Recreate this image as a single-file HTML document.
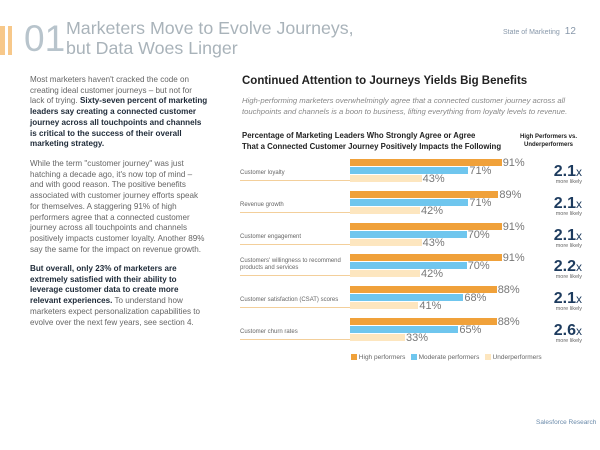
<!DOCTYPE html>
<html><head><meta charset="utf-8"><style>
body{margin:0;width:600px;height:450px;background:#fff;font-family:"Liberation Sans",sans-serif;position:relative;overflow:hidden;color:#444}
.a{position:absolute;white-space:nowrap}
.bar{position:absolute;height:7px}
.o{background:#f0a13a}.b{background:#6fc6ee}.l{background:#fde6bf}
.pct{position:absolute;font-size:11px;color:#777;line-height:8px}
.lab{position:absolute;left:240px;width:110px;border-bottom:1px solid #f3cf9b;font-size:6px;color:#666;line-height:7px}
.x{position:absolute;left:540px;width:42px;text-align:right;color:#1d3b5e;font-weight:bold;font-size:16px;line-height:14px}
.x span{font-weight:normal;font-size:12px}
.x div{font-size:5.5px;font-weight:normal;color:#666;line-height:6px}
.t{position:absolute;left:30px;font-size:8.1px;line-height:10.7px;color:#666;white-space:nowrap}
.t b{color:#1e2a38}
</style></head><body>
<div class="a" style="left:0;top:26px;width:5px;height:29px;background:#f7c88a"></div>
<div class="a" style="left:8px;top:26px;width:4px;height:29px;background:#f7c88a"></div>
<div class="a" style="left:24px;top:20px;font-size:37px;color:#b8c4cc;line-height:38px">01</div>
<div class="a" style="left:66px;top:18px;font-size:17.8px;color:#a9b3ba;line-height:20px">Marketers Move to Evolve Journeys,<br>but Data Woes Linger</div>
<div class="a" style="left:503px;top:26px;font-size:7px;color:#8898aa">State of Marketing <span style="font-size:10px;margin-left:3px">12</span></div>
<div class="t" style="top:75px">Most marketers haven't cracked the code on<br>creating ideal customer journeys – but not for<br>lack of trying. <b>Sixty-seven percent of marketing</b><br><b>leaders say creating a connected customer</b><br><b>journey across all touchpoints and channels</b><br><b>is critical to the success of their overall</b><br><b>marketing strategy.</b></div>
<div class="t" style="top:159px">While the term "customer journey" was just<br>hatching a decade ago, it's now top of mind –<br>and with good reason. The positive benefits<br>associated with customer journey efforts speak<br>for themselves. A staggering 91% of high<br>performers agree that a connected customer<br>journey across all touchpoints and channels<br>positively impacts customer loyalty. Another 89%<br>say the same for the impact on revenue growth.</div>
<div class="t" style="top:264px"><b>But overall, only 23% of marketers are</b><br><b>extremely satisfied with their ability to</b><br><b>leverage customer data to create more</b><br><b>relevant experiences.</b> To understand how<br>marketers expect personalization capabilities to<br>evolve over the next few years, see section 4.</div>
<div class="a" style="left:242px;top:75px;font-size:11.5px;font-weight:bold;color:#222">Continued Attention to Journeys Yields Big Benefits</div>
<div class="a" style="left:242px;top:95px;font-size:7.7px;line-height:11px;font-style:italic;color:#888">High-performing marketers overwhelmingly agree that a connected customer journey across all<br>touchpoints and channels is a boon to business, lifting everything from loyalty levels to revenue.</div>
<div class="a" style="left:242px;top:130px;font-size:7.8px;line-height:11px;font-weight:bold;color:#222">Percentage of Marketing Leaders Who Strongly Agree or Agree<br>That a Connected Customer Journey Positively Impacts the Following</div>
<div class="a" style="left:520px;top:133px;font-size:6px;line-height:8px;font-weight:bold;color:#222;text-align:center">High Performers vs.<br>Underperformers</div>

<div id="c"></div>
<script>
var d=[["Customer loyalty",91,71,43,"2.1"],["Revenue growth",89,71,42,"2.1"],["Customer engagement",91,70,43,"2.1"],["Customers' willingness to recommend<br>products and services",91,70,42,"2.2"],["Customer satisfaction (CSAT) scores",88,68,41,"2.1"],["Customer churn rates",88,65,33,"2.6"]];
var h="";
d.forEach(function(r,i){var t=159+31.8*i;
[["o",r[1],0],["b",r[2],8],["l",r[3],16]].forEach(function(b){var w=b[1]*1.667;
h+='<div class="bar '+b[0]+'" style="left:350px;top:'+(t+b[2])+'px;width:'+w+'px"></div><div class="pct" style="left:'+(351+w)+'px;top:'+(t+b[2])+'px">'+b[1]+'%</div>';});
var two=r[0].indexOf("<br>")>0;
h+='<div class="lab" style="top:'+(t+(two?4:11))+'px;height:'+(two?17:10)+'px">'+r[0]+'</div>';
h+='<div class="x" style="top:'+(t+6)+'px">'+r[4]+'<span>x</span><div>more likely</div></div>';});
document.getElementById("c").innerHTML=h;
</script>
<div class="a" style="left:351px;top:354px;font-size:6.5px;color:#666;line-height:7px">
<span style="display:inline-block;width:6px;height:6px;background:#f0a13a;vertical-align:-1px"></span> High performers &nbsp;
<span style="display:inline-block;width:6px;height:6px;background:#6fc6ee;vertical-align:-1px"></span> Moderate performers &nbsp;
<span style="display:inline-block;width:6px;height:6px;background:#fde6bf;vertical-align:-1px"></span> Underperformers</div>
<div class="a" style="left:536px;top:419px;font-size:6.5px;color:#6a8aaa">Salesforce Research</div>
</body></html>
